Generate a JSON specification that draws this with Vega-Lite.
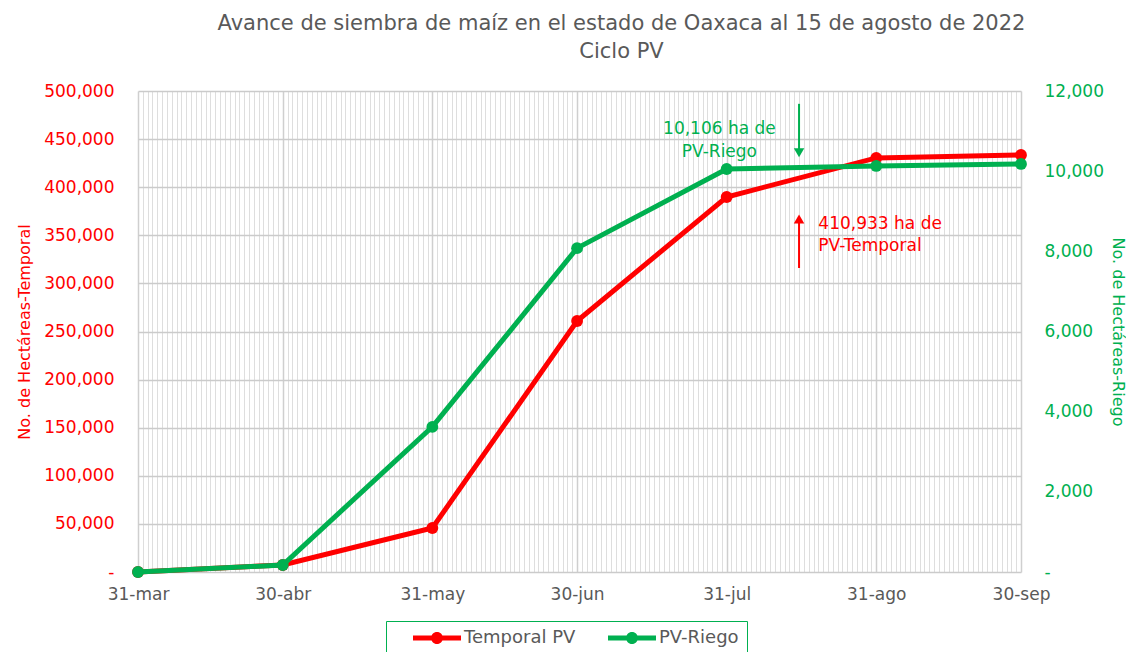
{
  "$schema": "https://vega.github.io/schema/vega-lite/v6.json",
  "width": 883,
  "height": 481,
  "padding": {"left": 16, "top": 13, "right": 0, "bottom": 0},
  "config": {
    "font": "DejaVu Sans",
    "view": {"stroke": null}
  },
  "title": {
    "text": ["Avance de siembra de maíz en el estado de  Oaxaca al 15 de agosto de 2022", "Ciclo PV"],
    "fontSize": 21,
    "fontWeight": "normal",
    "color": "#595959",
    "lineHeight": 28,
    "anchor": "middle",
    "dx": 42,
    "offset": 20
  },
  "datasets": {
    "avance": [
      {"fecha": "31-mar", "dia": 0, "serie": "Temporal PV", "valor": 0},
      {"fecha": "30-abr", "dia": 30, "serie": "Temporal PV", "valor": 7300},
      {"fecha": "31-may", "dia": 61, "serie": "Temporal PV", "valor": 45700},
      {"fecha": "30-jun", "dia": 91, "serie": "Temporal PV", "valor": 260900},
      {"fecha": "31-jul", "dia": 122, "serie": "Temporal PV", "valor": 389800},
      {"fecha": "31-ago", "dia": 153, "serie": "Temporal PV", "valor": 430400},
      {"fecha": "30-sep", "dia": 183, "serie": "Temporal PV", "valor": 433500},
      {"fecha": "31-mar", "dia": 0, "serie": "PV-Riego", "valor": 0},
      {"fecha": "30-abr", "dia": 30, "serie": "PV-Riego", "valor": 175},
      {"fecha": "31-may", "dia": 61, "serie": "PV-Riego", "valor": 3620},
      {"fecha": "30-jun", "dia": 91, "serie": "PV-Riego", "valor": 8080},
      {"fecha": "31-jul", "dia": 122, "serie": "PV-Riego", "valor": 10055},
      {"fecha": "31-ago", "dia": 153, "serie": "PV-Riego", "valor": 10130},
      {"fecha": "30-sep", "dia": 183, "serie": "PV-Riego", "valor": 10180}
    ]
  },
  "layer": [
    {
      "layer": [
        {
          "data": {"name": "avance"},
          "transform": [{"filter": "datum.serie == 'Temporal PV'"}],
          "mark": {"type": "line", "strokeWidth": 5, "point": {"filled": true, "size": 140}},
          "encoding": {
            "x": {
              "field": "dia", "type": "quantitative",
              "scale": {"domain": [0, 183], "nice": false, "zero": false},
              "axis": {
                "title": null,
                "tickCount": 183,
                "labelExpr": "indexof([0,30,61,91,122,153,183], datum.value) >= 0 ? ['31-mar','30-abr','31-may','30-jun','31-jul','31-ago','30-sep'][indexof([0,30,61,91,122,153,183], datum.value)] : ''",
                "labelOverlap": false,
                "labelBound": false,
                "labelFlush": false,
                "labelColor": "#595959",
                "labelFontSize": 17,
                "labelPadding": 14,
                "ticks": false,
                "domain": false,
                "grid": true,
                "gridColor": {"condition": {"test": "indexof([0,30,61,91,122,153,183], datum.value) >= 0", "value": "#cfcfcf"}, "value": "#dedede"},
                "gridWidth": {"condition": {"test": "indexof([0,30,61,91,122,153,183], datum.value) >= 0", "value": 1.5}, "value": 1}
              }
            },
            "y": {
              "field": "valor", "type": "quantitative",
              "scale": {"domain": [0, 500000]},
              "axis": {
                "title": "No. de Hectáreas-Temporal",
                "titleColor": "#FF0000",
                "titleFontSize": 16,
                "titleFontWeight": "normal",
                "titlePadding": 11,
                "values": [0, 50000, 100000, 150000, 200000, 250000, 300000, 350000, 400000, 450000, 500000],
                "labelExpr": "datum.value == 0 ? '-' : format(datum.value, ',')",
                "labelColor": "#FF0000",
                "labelFontSize": 17,
                "labelPadding": 24,
                "ticks": false,
                "domain": false,
                "grid": true,
                "gridColor": "#cbcbcb",
                "gridWidth": 1.5
              }
            },
            "color": {
              "field": "serie", "type": "nominal",
              "scale": {"domain": ["Temporal PV", "PV-Riego"], "range": ["#FF0000", "#00B050"]},
              "legend": {
                "title": null,
                "orient": "none",
                "legendX": 248,
                "legendY": 530,
                "direction": "horizontal",
                "strokeColor": "#00B050",
                "padding": 8,
                "labelFontSize": 18,
                "labelColor": "#595959",
                "symbolType": "M1.25,-0.3125H7.25V0.3125H1.25Z M5,0 A0.75,0.75 0 1,1 3.5,0 A0.75,0.75 0 1,1 5,0Z",
                "symbolSize": 256,
                "symbolStrokeWidth": 0,
                "columnPadding": 13,
                "labelOffset": 52
              }
            }
          }
        },
        {
          "data": {"values": [{"dia": 141, "valor": 362000, "texto": "410,933 ha de\nPV-Temporal"}]},
          "mark": {"type": "text", "align": "left", "baseline": "middle", "lineBreak": "\n", "lineHeight": 22, "fontSize": 17, "color": "#FF0000"},
          "encoding": {
            "x": {"field": "dia", "type": "quantitative"},
            "y": {"field": "valor", "type": "quantitative"},
            "text": {"field": "texto"}
          }
        },
        {
          "data": {"values": [{"dia": 137, "desde": 316000, "hasta": 367000}]},
          "mark": {"type": "rule", "color": "#FF0000", "strokeWidth": 2},
          "encoding": {
            "x": {"field": "dia", "type": "quantitative"},
            "y": {"field": "desde", "type": "quantitative"},
            "y2": {"field": "hasta"}
          }
        },
        {
          "data": {"values": [{"dia": 137, "punta": 367000}]},
          "mark": {"type": "point", "shape": "triangle-up", "filled": true, "color": "#FF0000", "size": 110, "opacity": 1},
          "encoding": {
            "x": {"field": "dia", "type": "quantitative"},
            "y": {"field": "punta", "type": "quantitative"}
          }
        }
      ]
    },
    {
      "layer": [
        {
          "data": {"name": "avance"},
          "transform": [{"filter": "datum.serie == 'PV-Riego'"}],
          "mark": {"type": "line", "strokeWidth": 5, "point": {"filled": true, "size": 140}},
          "encoding": {
            "x": {"field": "dia", "type": "quantitative"},
            "y": {
              "field": "valor", "type": "quantitative",
              "scale": {"domain": [0, 12000]},
              "axis": {
                "orient": "right",
                "title": "No. de Hectáreas-Riego",
                "titleColor": "#00B050",
                "titleFontSize": 16,
                "titleFontWeight": "normal",
                "titlePadding": 6,
                "values": [0, 2000, 4000, 6000, 8000, 10000, 12000],
                "labelExpr": "datum.value == 0 ? '-' : format(datum.value, ',')",
                "labelColor": "#00B050",
                "labelFontSize": 17,
                "labelPadding": 23,
                "ticks": false,
                "domain": false,
                "grid": false
              }
            },
            "color": {"field": "serie", "type": "nominal"}
          }
        },
        {
          "data": {"values": [{"dia": 120.5, "valor": 11040, "texto": "10,106 ha de\nPV-Riego"}]},
          "mark": {"type": "text", "align": "center", "baseline": "middle", "lineBreak": "\n", "lineHeight": 23, "fontSize": 17, "color": "#00B050"},
          "encoding": {
            "x": {"field": "dia", "type": "quantitative"},
            "y": {"field": "valor", "type": "quantitative"},
            "text": {"field": "texto"}
          }
        },
        {
          "data": {"values": [{"dia": 137, "desde": 11680, "hasta": 10460}]},
          "mark": {"type": "rule", "color": "#00B050", "strokeWidth": 2},
          "encoding": {
            "x": {"field": "dia", "type": "quantitative"},
            "y": {"field": "desde", "type": "quantitative"},
            "y2": {"field": "hasta"}
          }
        },
        {
          "data": {"values": [{"dia": 137, "punta": 10460}]},
          "mark": {"type": "point", "shape": "triangle-down", "filled": true, "color": "#00B050", "size": 110, "opacity": 1},
          "encoding": {
            "x": {"field": "dia", "type": "quantitative"},
            "y": {"field": "punta", "type": "quantitative"}
          }
        }
      ]
    }
  ],
  "resolve": {"scale": {"y": "independent"}}
}
